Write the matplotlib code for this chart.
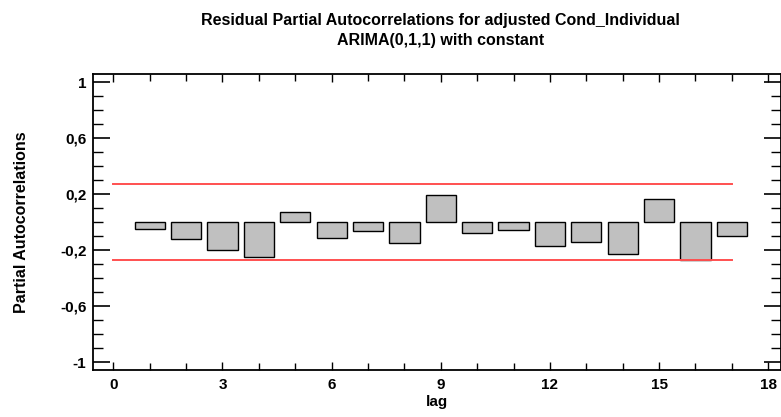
import numpy as np
import matplotlib
matplotlib.use('Agg')
import matplotlib.pyplot as plt
from matplotlib.ticker import MultipleLocator, FuncFormatter

# residual partial autocorrelations, lags 1..17
lags = np.arange(1, 18)
pacf = [-0.046, -0.120, -0.200, -0.250, 0.076, -0.114, -0.062, -0.148, 0.195,
        -0.081, -0.053, -0.174, -0.140, -0.226, 0.164, -0.274, -0.102]
limit = 0.272  # 95% probability limits
limit_lags = [0, 17]

title_txt = "Residual Partial Autocorrelations for adjusted Cond_Individual\nARIMA(0,1,1) with constant"

plt.rcParams['font.family'] = ['Liberation Sans', 'DejaVu Sans']
plt.rcParams['font.weight'] = 'bold'

fig = plt.figure(figsize=(7.81, 4.17), dpi=100)
ax = fig.add_axes([0.1195, 0.1127, 0.8800, 0.7091])

ax.bar(lags, pacf, width=0.83, color='#c0c0c0', edgecolor='black', linewidth=1.0, zorder=2)
ax.plot(limit_lags, [limit, limit], color='#ff5050', linewidth=1.4, zorder=3)
ax.plot(limit_lags, [-limit, -limit], color='#ff5050', linewidth=1.4, zorder=3)

ax.set_xlim(-0.55, 18.34)
ax.set_ylim(-1.057, 1.057)
ax.xaxis.set_major_locator(MultipleLocator(3))
ax.xaxis.set_minor_locator(MultipleLocator(1))
ax.yaxis.set_minor_locator(MultipleLocator(0.1))
ax.set_yticks([-1, -0.6, -0.2, 0.2, 0.6, 1])
ax.yaxis.set_major_formatter(FuncFormatter(lambda v, p: ('%g' % round(v, 2)).replace('.', ',')))

ax.tick_params(axis='y', which='major', direction='in', length=12, width=1.2, left=True, right=True, pad=5, labelsize=11)
ax.tick_params(axis='y', which='minor', direction='in', length=7, width=1.0, left=True, right=True)
ax.tick_params(axis='x', which='major', direction='in', length=6, width=1.0, top=True, bottom=True, pad=6, labelsize=11)
ax.tick_params(axis='x', which='minor', direction='in', length=5, width=1.0, top=True, bottom=True)
for lbl in ax.get_xticklabels() + ax.get_yticklabels():
    lbl.set_fontweight('bold')

for s in ax.spines.values():
    s.set_linewidth(1.3)

ax.set_xlabel('lag', fontsize=11, fontweight='bold', labelpad=2)
ax.set_ylabel('Partial Autocorrelations', fontsize=11.5, fontweight='bold', labelpad=22)
fig.text(0.5635, 0.97, title_txt, ha='center', va='top', fontsize=11.5, fontweight='bold', linespacing=1.45)

fig.savefig('out.png', dpi=100)
